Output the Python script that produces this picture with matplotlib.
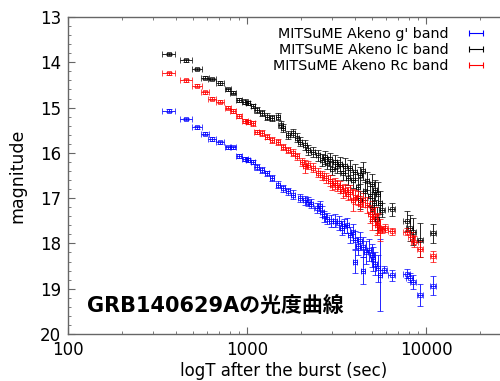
import matplotlib
matplotlib.use("Agg")
import matplotlib.pyplot as plt
import numpy as np
from matplotlib.ticker import NullFormatter, MultipleLocator

plt.rcParams['font.family'] = ['DejaVu Sans', 'Noto Sans CJK JP']

# ---------------- data ----------------
# Ic band (black)
ic_t   = [367, 456, 526, 583, 638, 707, 783, 835, 903, 975, 1013, 1080, 1137, 1213, 1293,
          1380, 1491, 1540, 1589, 1695, 1807, 1903, 1978, 2109, 2192, 2337, 2492, 2624, 2728,
          2908, 3101, 3307, 3527, 3761, 4012, 4279, 4446, 4681, 4993, 5190, 5394, 5534,
          4279, 4993, 5300, 2800, 3000, 3200, 3420, 3650, 3900, 4150, 4560, 4850, 5100,
          5679, 6457, 7833, 8139, 8460, 9258, 10940]
ic_dt  = [30, 36, 36, 30, 30, 34, 34, 30, 34, 34, 32, 34, 36, 38, 40,
          42, 45, 45, 48, 50, 54, 56, 58, 62, 64, 68, 72, 76, 78,
          82, 88, 92, 98, 104, 110, 118, 120, 126, 134, 138, 142, 146,
          118, 134, 140, 78, 84, 90, 96, 100, 106, 112, 122, 130, 136,
          250, 290, 350, 360, 370, 400, 480]
ic_m   = [13.82, 13.96, 14.15, 14.34, 14.37, 14.46, 14.60, 14.67, 14.83, 14.87, 14.90, 14.97,
          15.05, 15.12, 15.20, 15.23, 15.20, 15.38, 15.45, 15.60, 15.57, 15.67, 15.75, 15.83,
          15.94, 15.98, 16.05, 16.16, 16.10, 16.14, 16.20, 16.25, 16.28, 16.33, 16.42, 16.50,
          16.40, 16.62, 16.68, 16.82, 16.90, 17.10,
          17.05, 17.25, 17.45, 16.22, 16.35, 16.30, 16.45, 16.55, 16.60, 16.75, 16.85, 16.95,
          17.10,
          17.26, 17.25, 17.50, 17.66, 17.74, 17.92, 17.78]
ic_dm  = [0.03, 0.03, 0.03, 0.03, 0.03, 0.04, 0.04, 0.04, 0.04, 0.05, 0.05, 0.05, 0.06, 0.06,
          0.07, 0.07, 0.08, 0.08, 0.08, 0.09, 0.09, 0.10, 0.10, 0.11, 0.11, 0.12, 0.12, 0.13,
          0.14, 0.14, 0.15, 0.15, 0.16, 0.17, 0.18, 0.18, 0.20, 0.20, 0.22, 0.22, 0.25, 0.25,
          0.20, 0.25, 0.25, 0.13, 0.14, 0.15, 0.16, 0.17, 0.18, 0.20, 0.20, 0.22, 0.24,
          0.15, 0.15, 0.22, 0.28, 0.30, 0.37, 0.20]

# Rc band (red)
rc_t   = [367, 456, 526, 583, 638, 707, 783, 835, 903, 975, 1013, 1080, 1137, 1213, 1293,
          1380, 1491, 1589, 1695, 1807, 1903, 2030, 2192, 2337, 2492, 2624, 2750, 2908, 3101,
          3307, 3527, 3761, 4012, 4446, 4681, 4993, 5190, 5394, 5534,
          2109, 3900, 5000, 3000, 3200, 3420, 3650, 4150, 4300, 4850, 5300,
          5679, 5900, 6457, 7833, 8300, 8600, 9258, 10940]
rc_dt  = [30, 36, 36, 30, 30, 34, 34, 30, 34, 34, 32, 34, 36, 38, 40,
          42, 45, 48, 50, 54, 56, 60, 64, 68, 72, 76, 78, 82, 88,
          92, 98, 104, 110, 120, 126, 134, 138, 142, 146,
          62, 106, 134, 84, 90, 96, 100, 112, 116, 130, 140,
          250, 260, 290, 350, 360, 370, 400, 480]
rc_m   = [14.24, 14.40, 14.52, 14.66, 14.80, 14.87, 15.00, 15.07, 15.18, 15.30, 15.32, 15.35,
          15.54, 15.56, 15.64, 15.72, 15.76, 15.87, 15.94, 16.00, 16.08, 16.20, 16.27, 16.33,
          16.44, 16.50, 16.55, 16.62, 16.67, 16.75, 16.82, 16.86, 16.97, 17.04, 17.15, 17.26,
          17.40, 17.55, 17.70,
          16.30, 17.04, 17.45, 16.70, 16.72, 16.85, 16.90, 17.00, 17.12, 17.35, 17.60,
          17.69, 17.66, 17.73, 17.74, 17.85, 17.96, 18.12, 18.28]
rc_dm  = [0.03, 0.03, 0.03, 0.03, 0.03, 0.04, 0.04, 0.04, 0.04, 0.05, 0.05, 0.05, 0.05, 0.06,
          0.06, 0.06, 0.07, 0.07, 0.07, 0.08, 0.08, 0.09, 0.09, 0.10, 0.10, 0.11, 0.11, 0.12,
          0.12, 0.13, 0.14, 0.15, 0.15, 0.16, 0.18, 0.20, 0.20, 0.22, 0.25,
          0.15, 0.25, 0.25, 0.12, 0.13, 0.14, 0.15, 0.16, 0.17, 0.20, 0.22,
          0.08, 0.08, 0.08, 0.08, 0.10, 0.12, 0.18, 0.12]

# g' band (blue)
g_t    = [367, 456, 526, 583, 638, 707, 783, 835, 903, 975, 1013, 1080, 1137, 1213, 1293,
          1380, 1491, 1589, 1695, 1807, 1978, 2109, 2280, 2450, 2624, 2800, 2950, 3101, 3250,
          3400, 3600, 3761, 4012, 4279, 4446, 4600, 4993, 5190, 5394, 5534,
          4012, 4446, 2200, 2550, 2700, 3500, 3900, 4150, 4800, 5050,
          5800, 6457, 7833, 8139, 8460, 9258, 10940]
g_dt   = [30, 36, 36, 30, 30, 34, 34, 30, 34, 34, 32, 34, 36, 38, 40,
          42, 45, 48, 50, 54, 58, 62, 66, 70, 76, 80, 84, 88, 90,
          94, 100, 104, 110, 118, 120, 124, 134, 138, 142, 146,
          110, 120, 64, 72, 76, 98, 106, 112, 128, 134,
          250, 290, 350, 360, 370, 400, 480]
g_m    = [15.07, 15.25, 15.44, 15.58, 15.69, 15.77, 15.88, 15.88, 16.07, 16.14, 16.16, 16.20,
          16.31, 16.38, 16.45, 16.55, 16.70, 16.78, 16.85, 16.92, 17.00, 17.05, 17.12, 17.22,
          17.30, 17.45, 17.50, 17.50, 17.55, 17.66, 17.60, 17.82, 17.93, 17.95, 18.08, 18.20,
          18.26, 18.45, 18.55, 18.70,
          18.40, 18.60, 17.08, 17.18, 17.40, 17.62, 17.75, 18.05, 18.15, 18.35,
          18.58, 18.70, 18.67, 18.76, 18.85, 19.14, 18.93]
g_dm   = [0.03, 0.03, 0.03, 0.03, 0.04, 0.04, 0.04, 0.04, 0.05, 0.05, 0.05, 0.05, 0.06, 0.06,
          0.06, 0.07, 0.07, 0.08, 0.08, 0.09, 0.09, 0.10, 0.10, 0.11, 0.12, 0.12, 0.13, 0.14,
          0.15, 0.15, 0.16, 0.18, 0.20, 0.20, 0.22, 0.25, 0.25, 0.25, 0.30, 0.80,
          0.25, 0.30, 0.10, 0.11, 0.12, 0.16, 0.18, 0.20, 0.24, 0.26,
          0.08, 0.12, 0.10, 0.10, 0.15, 0.25, 0.20]

labels = ["MITSuME Akeno g' band", "MITSuME Akeno Ic band", "MITSuME Akeno Rc band"]
colors = ['#0000ff', '#000000', '#ff0000']
title_text = "GRB140629Aの光度曲線"

# ---------------- figure ----------------
fig = plt.figure(figsize=(5.0, 3.81), dpi=100)
ax = fig.add_axes([0.136, 0.1234, 0.864, 0.832])

style = dict(fmt='s', ms=2.4, mfc='none', mew=0.5, elinewidth=0.6, capsize=2, capthick=0.6)
ax.errorbar(g_t, g_m, xerr=g_dt, yerr=g_dm, color=colors[0], **style)
ax.errorbar(ic_t, ic_m, xerr=ic_dt, yerr=ic_dm, color=colors[1], **style)
ax.errorbar(rc_t, rc_m, xerr=rc_dt, yerr=rc_dm, color=colors[2], **style)

# legend proxies (invisible, NaN): horizontal bar with caps only
handles = []
for c, lab in zip(colors, labels):
    h = ax.errorbar([np.nan], [np.nan], xerr=[1.0], fmt='none', ecolor=c, elinewidth=0.8,
                    capsize=2.5, capthick=0.8, label=lab)
    handles.append(h)

ax.set_xscale('log')
ax.set_xlim(100, 25900)
ax.set_ylim(20, 13)

ax.yaxis.set_major_locator(MultipleLocator(1))
ax.yaxis.set_minor_locator(MultipleLocator(0.2))
ax.set_xticks([100, 1000, 10000])
ax.set_xticklabels(['100', '1000', '10000'])
ax.xaxis.set_minor_formatter(NullFormatter())

for s in ['left', 'bottom', 'top']:
    ax.spines[s].set_color('#666666')
    ax.spines[s].set_linewidth(1.0)
ax.spines['right'].set_visible(False)
ax.tick_params(which='both', direction='in', top=True, right=False, colors='#666666',
               labelcolor='black', labelsize=12)
ax.tick_params(which='major', length=5, width=0.8)
ax.tick_params(which='minor', length=2.5, width=0.6)
ax.tick_params(axis='x', pad=5)
ax.tick_params(axis='y', pad=5)

ax.set_xlabel('logT after the burst (sec)', fontsize=12, labelpad=2)
ax.set_ylabel('magnitude', fontsize=12.5, labelpad=10)

leg = ax.legend(handles=handles, loc='upper right', bbox_to_anchor=(1.0, 0.995),
                frameon=False, markerfirst=False, fontsize=10.3, handlelength=2.2,
                borderaxespad=0.2, labelspacing=0.12, handletextpad=0.8)

ax.text(0.045, 0.088, title_text, transform=ax.transAxes, fontsize=15,
        fontweight='bold', ha='left', va='center')

fig.savefig('out.png', dpi=100)
